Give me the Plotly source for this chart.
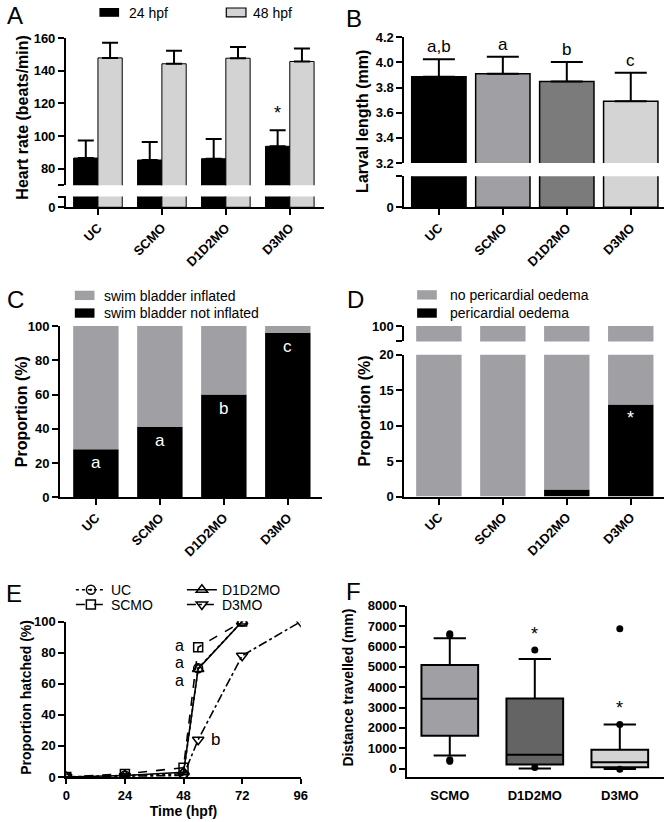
import plotly.graph_objects as go

W, H = 672, 822
FONT = "Liberation Sans, Arial, sans-serif"

# ---------------- data ----------------
groups = ["UC", "SCMO", "D1D2MO", "D3MO"]

# A: heart rate
hr24_mean = [86.6, 85.4, 86.2, 93.8]
hr24_err = [10.8, 11.1, 12.0, 9.8]
hr48_mean = [147.9, 144.3, 147.7, 145.7]
hr48_err = [9.2, 8.0, 6.8, 8.0]

# B: larval length
len_mean = [3.886, 3.909, 3.847, 3.691]
len_err = [0.138, 0.135, 0.156, 0.226]
len_letters = ["a,b", "a", "b", "c"]
len_colors = ["#000000", "#a0a0a4", "#7b7b7b", "#d4d4d4"]

# C: swim bladder
sb_not = [28, 41, 60, 96]
sb_letters = ["a", "a", "b", "c"]

# D: pericardial oedema
po_yes = [0, 0, 1, 13]

# E: hatching
t_main = [0, 24, 48, 54, 72]
uc_h = [0, 1, 2, 70, 100]
scmo_h = [0, 2, 6, 83.5, 100]
d1d2_h = [0, 1, 3, 69.5, 100]
t_d3 = [0, 24, 48, 54, 72, 96]
d3_h = [0, 0.5, 1, 24, 78, 100]

# F: distance travelled (box stats)
f_groups = ["SCMO", "D1D2MO", "D3MO"]
f_q1 = [1610, 195, 65]
f_med = [3430, 680, 310]
f_q3 = [5090, 3450, 920]
f_lo = [645, 0, -20]
f_hi = [6410, 5390, 2170]
f_colors = ["#a0a0a4", "#646464", "#d4d4d4"]
out_x = ["SCMO", "SCMO", "SCMO", "SCMO", "D1D2MO", "D1D2MO", "D3MO", "D3MO", "D3MO"]
out_y = [6630, 6560, 435, 355, 5830, 50, 6875, 2170, -30]


def xd(x0, x1):
    return [x0 / W, x1 / W]


def yd(y0, y1):
    return [1 - y1 / H, 1 - y0 / H]


def px(x):
    return x / W


def py(y):
    return 1 - y / H


fig = go.Figure()

# ---------- Panel A ----------
for sub in ["y", "y2"]:
    fig.add_trace(go.Bar(x=list(range(4)), y=hr24_mean, xaxis="x", yaxis=sub,
                         width=0.38, offset=-0.38, marker=dict(color="black", line=dict(color="black", width=1)),
                         error_y=dict(type="data", symmetric=False, array=hr24_err, arrayminus=[0] * 4,
                                      color="black", thickness=2, width=8, visible=(sub == "y")),
                         showlegend=False))
    fig.add_trace(go.Bar(x=list(range(4)), y=hr48_mean, xaxis="x", yaxis=sub,
                         width=0.38, offset=0, marker=dict(color="#d3d3d3", line=dict(color="black", width=1)),
                         error_y=dict(type="data", symmetric=False, array=hr48_err, arrayminus=[0] * 4,
                                      color="black", thickness=2, width=8, visible=(sub == "y")),
                         showlegend=False))

# ---------- Panel B ----------
for sub in ["y3", "y4"]:
    fig.add_trace(go.Bar(x=list(range(4)), y=len_mean, xaxis="x2", yaxis=sub, width=0.85,
                         marker=dict(color=len_colors, line=dict(color="black", width=1.5)),
                         error_y=dict(type="data", symmetric=False, array=len_err, arrayminus=[0] * 4,
                                      color="black", thickness=2, width=16, visible=(sub == "y3")),
                         showlegend=False))

# ---------- Panel C ----------
fig.add_trace(go.Bar(x=list(range(4)), y=sb_not, xaxis="x3", yaxis="y5", width=0.71,
                     marker=dict(color="black", line=dict(width=0)), showlegend=False))
fig.add_trace(go.Bar(x=list(range(4)), y=[100 - v for v in sb_not], base=sb_not, xaxis="x3", yaxis="y5",
                     width=0.71, marker=dict(color="#a0a0a4", line=dict(width=0)), showlegend=False))

# ---------- Panel D ----------
for sub in ["y6", "y7"]:
    fig.add_trace(go.Bar(x=list(range(4)), y=po_yes, xaxis="x4", yaxis=sub, width=0.71,
                         marker=dict(color="black", line=dict(width=0)), showlegend=False))
    fig.add_trace(go.Bar(x=list(range(4)), y=[100 - v for v in po_yes], base=po_yes, xaxis="x4", yaxis=sub,
                         width=0.71, marker=dict(color="#a0a0a4", line=dict(width=0)), showlegend=False))

# ---------- Panel E ----------
lw = 1.6
fig.add_trace(go.Scatter(x=t_main, y=uc_h, xaxis="x5", yaxis="y8", name="UC", legend="legend",
                         mode="lines+markers", line=dict(color="black", width=lw, dash="dot"),
                         marker=dict(symbol="circle-open-dot", size=9, color="black", line=dict(width=1.5))))
fig.add_trace(go.Scatter(x=t_main, y=scmo_h, xaxis="x5", yaxis="y8", name="SCMO", legend="legend2",
                         mode="lines+markers", line=dict(color="black", width=lw, dash="dash"),
                         marker=dict(symbol="square-open", size=9, color="black", line=dict(width=1.5))))
fig.add_trace(go.Scatter(x=t_main, y=d1d2_h, xaxis="x5", yaxis="y8", name="D1D2MO", legend="legend",
                         mode="lines+markers", line=dict(color="black", width=lw, dash="solid"),
                         marker=dict(symbol="triangle-up-open", size=10, color="black", line=dict(width=1.5))))
fig.add_trace(go.Scatter(x=t_d3, y=d3_h, xaxis="x5", yaxis="y8", name="D3MO", legend="legend2",
                         mode="lines+markers", line=dict(color="black", width=lw, dash="dashdot"),
                         marker=dict(symbol="triangle-down-open", size=10, color="black", line=dict(width=1.5))))

# ---------- Panel F ----------
for i, g in enumerate(f_groups):
    fig.add_trace(go.Box(x=[g], q1=[f_q1[i]], median=[f_med[i]], q3=[f_q3[i]],
                         lowerfence=[f_lo[i]], upperfence=[f_hi[i]], xaxis="x6", yaxis="y9",
                         width=0.667, whiskerwidth=0.57, fillcolor=f_colors[i],
                         line=dict(color="black", width=2), boxpoints=False, showlegend=False))
fig.add_trace(go.Scatter(x=out_x, y=out_y, xaxis="x6", yaxis="y9", mode="markers",
                         marker=dict(color="black", size=7), showlegend=False))

# ---------------- axes ----------------
tickfont = dict(family=FONT, size=13, color="black", weight="bold")
base_ax = dict(showline=True, linecolor="black", linewidth=2, ticks="outside", ticklen=6, tickwidth=2,
               tickcolor="black", showgrid=False, zeroline=False, tickfont=tickfont, fixedrange=True)

cat_lbl = dict(tickmode="array", tickvals=list(range(4)), ticktext=groups, tickangle=-45)

layout = dict(
    # A
    xaxis=dict(base_ax, domain=xd(63, 325), range=[-0.5, 3.53], anchor="y2", **cat_lbl),
    yaxis=dict(base_ax, domain=yd(31.7, 181.5), range=[70, 160], anchor="x",
               tickmode="array", tickvals=[70.05, 80, 100, 120, 140, 160],
               ticktext=["", "80", "100", "120", "140", "160"]),
    yaxis2=dict(base_ax, domain=yd(193, 204), range=[0, 6.6], anchor="x",
                tickmode="array", tickvals=[0, 6.55], ticktext=["0", ""]),
    # B
    xaxis2=dict(base_ax, domain=xd(407, 671), range=[-0.54, 3.52], anchor="y4", **cat_lbl),
    yaxis3=dict(base_ax, domain=yd(30.7, 159), range=[3.2, 4.2], anchor="x2",
                tickmode="array", tickvals=[3.2, 3.4, 3.6, 3.8, 4.0, 4.2],
                ticktext=["3.2", "3.4", "3.6", "3.8", "4.0", "4.2"]),
    yaxis4=dict(base_ax, domain=yd(172.3, 204), range=[0, 0.247], anchor="x2",
                tickmode="array", tickvals=[0, 0.2465], ticktext=["0", ""]),
    # C
    xaxis3=dict(base_ax, domain=xd(57, 323), range=[-0.56, 3.53], anchor="y5", **cat_lbl),
    yaxis5=dict(base_ax, domain=yd(325, 499.3), range=[0, 100], anchor="x3",
                tickmode="array", tickvals=[0, 20, 40, 60, 80, 100]),
    # D
    xaxis4=dict(base_ax, domain=xd(407, 671), range=[-0.54, 3.52], anchor="y7", **cat_lbl),
    yaxis6=dict(base_ax, domain=yd(325, 340.7), range=[97.8, 100], anchor="x4",
                tickmode="array", tickvals=[97.81, 100], ticktext=["", "100"]),
    yaxis7=dict(base_ax, domain=yd(354.3, 498.7), range=[0, 20], anchor="x4",
                tickmode="array", tickvals=[0, 5, 10, 15, 20]),
    # E
    xaxis5=dict(base_ax, domain=xd(63.3, 301.7), range=[0, 96], anchor="y8", ticklen=5,
                tickmode="array", tickvals=[0, 24, 48, 72, 96],
                title=dict(text="Time (hpf)", standoff=2,
                           font=dict(family=FONT, size=14, color="black", weight="bold"))),
    yaxis8=dict(base_ax, domain=yd(626, 784.3), range=[0, 100], anchor="x5",
                tickmode="array", tickvals=[0, 20, 40, 60, 80, 100]),
    # F
    xaxis6=dict(base_ax, domain=xd(410, 671), range=[-0.5, 2.52], anchor="y9",
                tickcolor="rgba(0,0,0,0)", ticklen=5, tickangle=0),
    yaxis9=dict(base_ax, domain=yd(610, 784.3), range=[-415, 8000], anchor="x6",
                tickmode="array", tickvals=list(range(0, 8001, 1000))),
)

# ---------------- annotations ----------------
ann = []


def txt(x, y, s, size=14, bold=False, color="black", xanchor="center", yanchor="middle",
        xref="paper", yref="paper", angle=0):
    ann.append(dict(x=x, y=y, text=s, showarrow=False, xref=xref, yref=yref, xanchor=xanchor,
                    yanchor=yanchor, textangle=angle,
                    font=dict(family=FONT, size=size, color=color, weight="bold" if bold else "normal")))


# panel letters
for lab, x, y in [("A", 1, 9), ("B", 346, 12), ("C", 1, 298), ("D", 347, 298), ("E", 0, 597), ("F", 346, 595)]:
    txt(px(x), py(y), lab, size=24, xanchor="left")

# axis titles
txt(px(19), py(112), "Heart rate (beats/min)", size=16, bold=True, angle=-90)
txt(px(365), py(117), "Larval length (mm)", size=16, bold=True, angle=-90)
txt(px(18), py(412), "Proportion (%)", size=16, bold=True, angle=-90)
txt(px(366), py(412), "Proportion (%)", size=16, bold=True, angle=-90)
txt(px(23), py(703), "Proportion hatched (%)", size=14, bold=True, angle=-90)
txt(px(350), py(693), "Distance travelled (mm)", size=14, bold=True, angle=-90)

# A: star
txt(3 - 0.19, 114, "*", size=18, xref="x", yref="y")
# B letters
for i, s in enumerate(len_letters):
    ann.append(dict(x=i, y=len_mean[i] + len_err[i], text=s, showarrow=False, xref="x2", yref="y3",
                    yanchor="bottom", yshift=1, font=dict(family=FONT, size=17, color="black")))
# C letters
for i, s in enumerate(sb_letters):
    ann.append(dict(x=i, y=sb_not[i], text=s, showarrow=False, xref="x3", yref="y5",
                    yanchor="top", yshift=-2, font=dict(family=FONT, size=17, color="white")))
# D star
ann.append(dict(x=3, y=po_yes[3], text="*", showarrow=False, xref="x4", yref="y7",
                yanchor="top", yshift=-2, font=dict(family=FONT, size=18, color="white")))
# E letters
txt(49, 84.5, "a", size=16, xref="x5", yref="y8", xanchor="right")
txt(49, 73.8, "a", size=16, xref="x5", yref="y8", xanchor="right")
txt(49, 62.0, "a", size=16, xref="x5", yref="y8", xanchor="right")
txt(58.5, 23.8, "b", size=17, xref="x5", yref="y8", xanchor="left")
# F stars
txt(1, 6600, "*", size=18, xref="x6", yref="y9")
txt(2, 3000, "*", size=18, xref="x6", yref="y9")

# legends (bar panels)
shapes = []


def rect(x0, y0, x1, y1, fill, line=None):
    shapes.append(dict(type="rect", xref="paper", yref="paper", x0=px(x0), x1=px(x1), y0=py(y1), y1=py(y0),
                       fillcolor=fill, line=dict(color=line or fill, width=1.2 if line else 0)))


rect(97, 1, 117, 10, "black")
txt(px(125), py(6), "24 hpf", size=14, xanchor="left")
rect(226, 1, 246, 10, "#d3d3d3", line="black")
txt(px(251), py(6), "48 hpf", size=14, xanchor="left")

rect(72, 289, 92, 298.5, "#a0a0a4")
txt(px(100), py(294), "swim bladder inflated", size=14, xanchor="left")
rect(72, 307, 92, 316.5, "black")
txt(px(100), py(312), "swim bladder not inflated", size=14, xanchor="left")

rect(420, 288.5, 440, 298, "#a0a0a4")
txt(px(451), py(293.5), "no pericardial oedema", size=14, xanchor="left")
rect(420, 307, 440, 316.5, "black")
txt(px(451), py(312), "pericardial oedema", size=14, xanchor="left")

leg_common = dict(orientation="h", xanchor="left", yanchor="middle", bgcolor="rgba(0,0,0,0)",
                  font=dict(family=FONT, size=14, color="black"), itemwidth=30, entrywidth=66,
                  traceorder="normal")

fig.update_layout(
    width=W, height=H, margin=dict(l=0, r=0, t=0, b=0),
    paper_bgcolor="white", plot_bgcolor="white", barmode="overlay", showlegend=True,
    annotations=ann, shapes=shapes,
    legend=dict(leg_common, x=px(68), y=py(594)),
    legend2=dict(leg_common, x=px(68), y=py(609)),
    font=dict(family=FONT, color="black"),
    **layout,
)

fig.write_html("out.html", config={"displayModeBar": False},
               post_script="document.body.style.margin='0';")
